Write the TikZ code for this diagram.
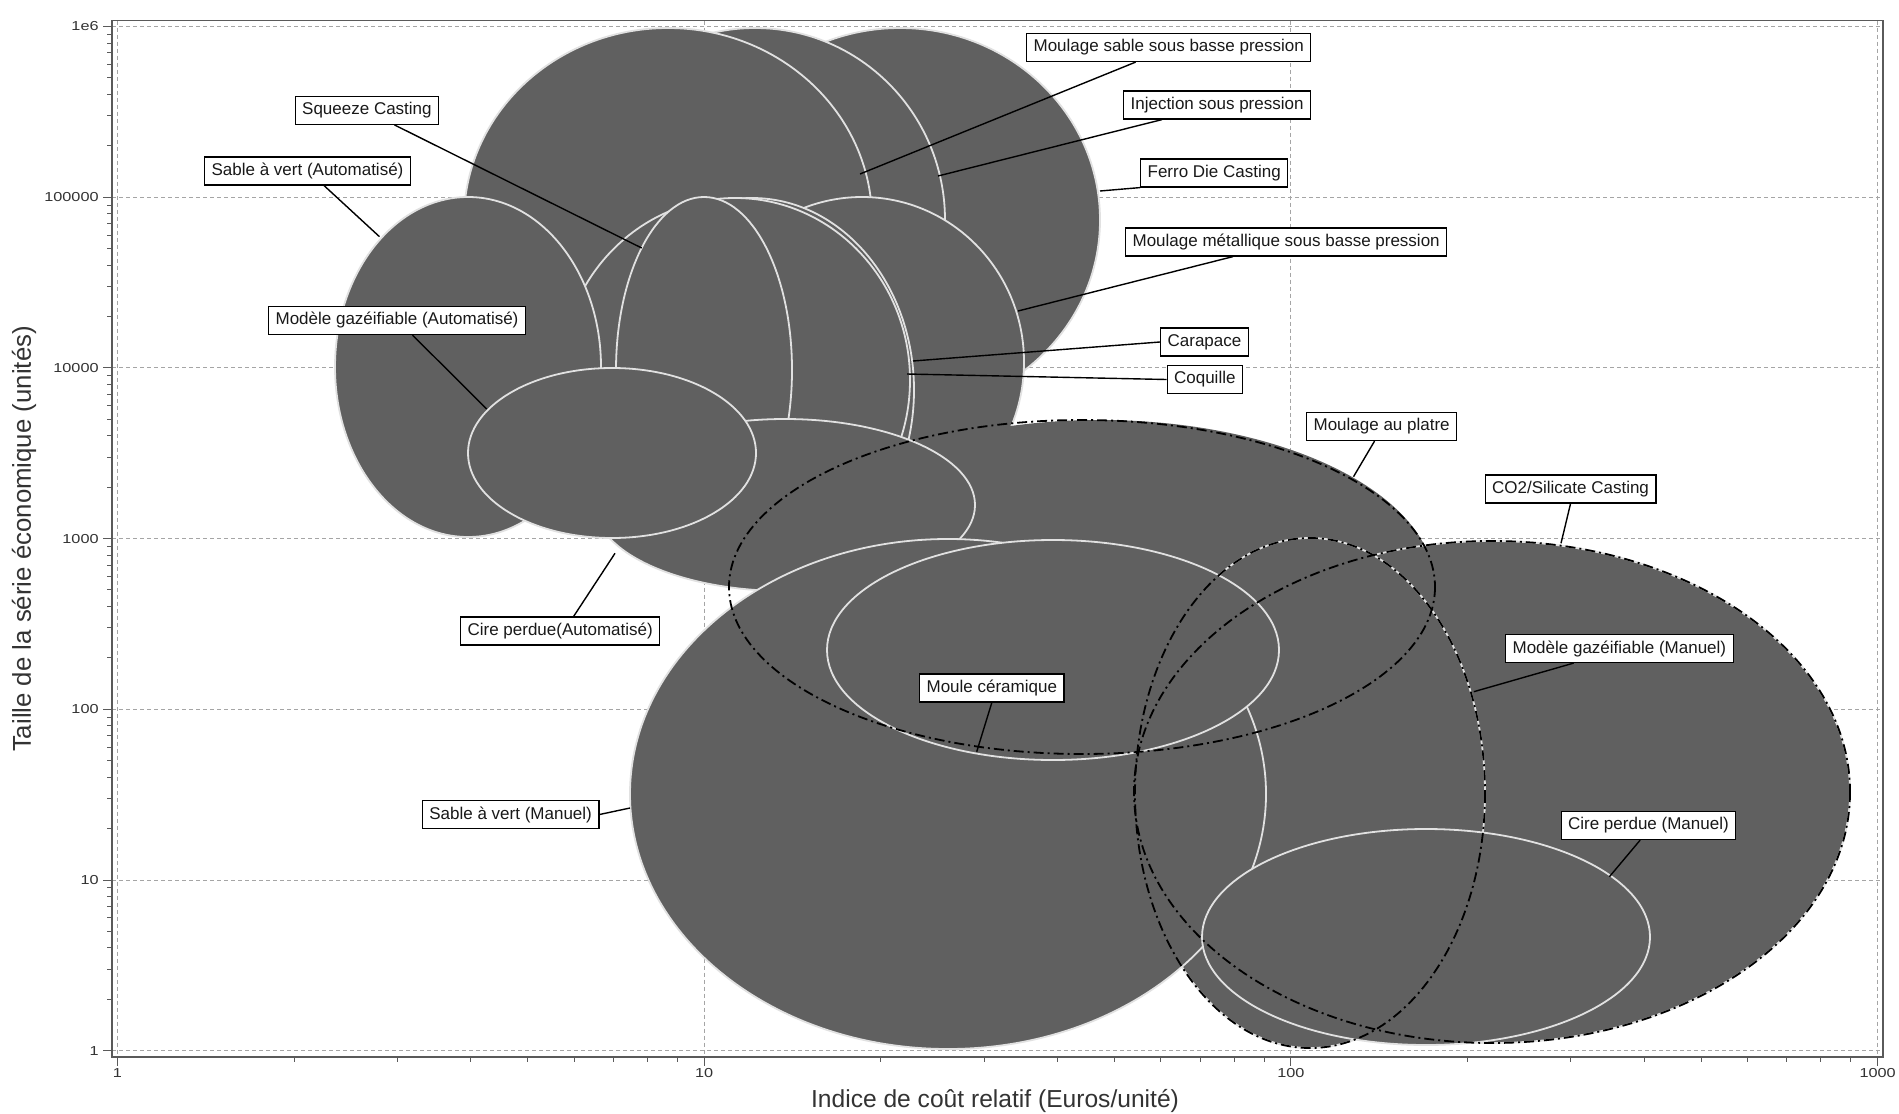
\documentclass[tikz,border=0pt]{standalone}
\usepackage{fontspec}
\usepackage{graphicx}
\setmainfont{Liberation Sans}
\usetikzlibrary{calc}
\definecolor{blob}{RGB}{96,96,96}
\definecolor{rim}{RGB}{225,225,225}
\definecolor{gridc}{RGB}{165,165,165}
\definecolor{frm}{RGB}{90,90,90}
\begin{document}
\begin{tikzpicture}[x=0.5pt,y=-0.5pt,
  blobfill/.style={fill=blob, draw=rim, line width=0.9pt},
  blobonly/.style={fill=blob},
  dashdot/.style={draw=black, line width=0.9pt, dash pattern=on 5pt off 2pt on 1pt off 2pt},
  lbl/.style={draw=black, fill=white, line width=0.6pt, font=\fontsize{8.5}{10}\selectfont, inner xsep=3.5pt, inner ysep=0pt, minimum height=14pt, text=black!90},
  leader/.style={draw=black, line width=0.7pt},
  gridl/.style={draw=gridc, line width=0.5pt, dash pattern=on 2pt off 1.5pt},
  tickl/.style={draw=frm, line width=0.5pt},
  ticklab/.style={font=\fontsize{6.5}{7}\selectfont, text=black!80, inner sep=1pt},
  axtitle/.style={font=\fontsize{12.3}{14}\selectfont, text=black!80, inner sep=0pt}
]
\useasboundingbox (0,0) rectangle (1899,1113);
\fill[white] (0,0) rectangle (1899,1113);

% grid
\foreach \k in {0,1,2,3} \draw[gridl] ({117.5+586.7*\k},20.7) -- ({117.5+586.7*\k},1056.7);
\foreach \k in {0,...,6} \draw[gridl] (112,{1050.7-170.7*\k}) -- (1883,{1050.7-170.7*\k});

% filled bubbles (bottom to top)
\path[blobfill] (900,220) ellipse [x radius=200, y radius=192];   % Ferro Die Casting
\path[blobfill] (755,220) ellipse [x radius=190, y radius=192];   % Injection sous pression
\path[blobfill] (668,220) ellipse [x radius=204, y radius=192];   % Moulage sable sous basse pression
\path[blobfill] (862,362) ellipse [x radius=162, y radius=165];   % Moulage metallique
\path[blobfill] (752,390) ellipse [x radius=162, y radius=192];   % Carapace
\path[blobfill] (735,380) ellipse [x radius=175, y radius=182];   % Coquille
\path[blobfill] (704,370) ellipse [x radius=88, y radius=173];    % Squeeze Casting
\path[blobfill] (468,367) ellipse [x radius=133, y radius=170];   % Sable a vert (Automatise)
\path[blobonly] (1100,587) ellipse [x radius=335, y radius=167];  % Moulage au platre (fill)
\path[blobfill] (785,505) ellipse [x radius=190, y radius=86];    % Cire perdue (Automatise)
\path[blobfill] (612,453) ellipse [x radius=144, y radius=85];    % Modele gazeifiable (Automatise)
\path[blobfill] (1492,792) ellipse [x radius=358, y radius=251];  % CO2/Silicate
\path[blobfill] (1310,793) ellipse [x radius=175, y radius=255];  % Modele gazeifiable (Manuel)
\path[blobfill] (948,794) ellipse [x radius=318, y radius=255];   % Sable a vert (Manuel)
\path[blobfill] (1053,650) ellipse [x radius=226, y radius=110];  % Moule ceramique
\path[blobfill] (1426,937) ellipse [x radius=224, y radius=108];  % Cire perdue (Manuel)

% dash-dot outlines
\path[dashdot] (1082,587) ellipse [x radius=353, y radius=167];
\path[dashdot] (1492,792) ellipse [x radius=358, y radius=251];
\path[dashdot] (1310,793) ellipse [x radius=175, y radius=255];

% frame
\draw[frm, line width=0.8pt] (112,20.7) rectangle (1883,1056.7);

% y ticks
\foreach \d in {0,...,5}{
  \foreach \k in {2,...,9}{
    \pgfmathsetmacro{\yy}{1050.7-170.7*(\d+log10(\k))}
    \draw[tickl] (112,\yy) -- (107,\yy);
  }
}
\foreach \d in {0,...,6}{
  \pgfmathsetmacro{\yy}{1050.7-170.7*\d}
  \draw[tickl] (112,\yy) -- (103,\yy);
}
% x ticks
\foreach \d in {0,1,2}{
  \foreach \k in {2,...,9}{
    \pgfmathsetmacro{\xx}{117.5+586.7*(\d+log10(\k))}
    \draw[tickl] (\xx,1056.7) -- (\xx,1062);
  }
}
\foreach \d in {0,...,3}{
  \pgfmathsetmacro{\xx}{117.5+586.7*\d}
  \draw[tickl] (\xx,1056.7) -- (\xx,1066);
}

% tick labels
\node[ticklab, anchor=east] (ty0) at (101,1050.7) {\scalebox{1.25}[1]{1}};
\node[ticklab, anchor=east] (ty1) at (101,880.0) {\scalebox{1.25}[1]{10}};
\node[ticklab, anchor=east] (ty2) at (101,709.3) {\scalebox{1.25}[1]{100}};
\node[ticklab, anchor=east] (ty3) at (101,538.6) {\scalebox{1.25}[1]{1000}};
\node[ticklab, anchor=east] (ty4) at (101,367.9) {\scalebox{1.25}[1]{10000}};
\node[ticklab, anchor=east] (ty5) at (101,197.2) {\scalebox{1.25}[1]{100000}};
\node[ticklab, anchor=east] (ty6) at (101,26.5) {\scalebox{1.25}[1]{1e6}};
\node[ticklab, anchor=north] (tx0) at (117.5,1066) {\scalebox{1.25}[1]{1}};
\node[ticklab, anchor=north] (tx1) at (704.2,1066) {\scalebox{1.25}[1]{10}};
\node[ticklab, anchor=north] (tx2) at (1290.9,1066) {\scalebox{1.25}[1]{100}};
\node[ticklab, anchor=north] (tx3) at (1877.6,1066) {\scalebox{1.25}[1]{1000}};

% axis titles
\node[axtitle] (xt) at (995,1101) {Indice de coût relatif (Euros/unité)};
\node[axtitle, rotate=90, font=\fontsize{12.9}{14}\selectfont] (yt) at (24,539) {Taille de la série économique (unités)};

% leader end points
\coordinate (e1) at (860,174);
\coordinate (e2) at (938,176);
\coordinate (e3) at (1100,191);
\coordinate (e4) at (1018,311);
\coordinate (e5) at (913,361);
\coordinate (e6) at (907,374);
\coordinate (e7) at (1353.5,476.7);
\coordinate (e8) at (1561,543.3);
\coordinate (e9) at (1473.8,691.7);
\coordinate (e10) at (1609.4,876.7);
\coordinate (e11) at (630,808);
\coordinate (e12) at (976.7,751.7);
\coordinate (e13) at (615,553.3);
\coordinate (e14) at (486.7,409);
\coordinate (e15) at (379.5,236.7);
\coordinate (e16) at (641.7,248);

% labels
\node[lbl, anchor=west] (l1) at (1026,47.5) {Moulage sable sous basse pression};
\node[lbl, anchor=west] (l2) at (1123,105) {Injection sous pression};
\node[lbl, anchor=west] (l3) at (1140,173) {Ferro Die Casting};
\node[lbl, anchor=west] (l4) at (1125,242) {Moulage métallique sous basse pression};
\node[lbl, anchor=west] (l5) at (1160,342) {Carapace};
\node[lbl, anchor=west] (l6) at (1166.5,379.5) {Coquille};
\node[lbl, anchor=west] (l7) at (1306,426.5) {Moulage au platre};
\node[lbl, anchor=west] (l8) at (1484.5,489) {CO2/Silicate Casting};
\node[lbl, anchor=west] (l9) at (1505,648.5) {Modèle gazéifiable (Manuel)};
\node[lbl, anchor=west] (l10) at (1560.5,825.5) {Cire perdue (Manuel)};
\node[lbl, anchor=east] (l11) at (599.5,814.5) {Sable à vert (Manuel)};
\node[lbl, anchor=west] (l12) at (919,688) {Moule céramique};
\node[lbl, anchor=west] (l13) at (460,631) {Cire perdue(Automatisé)};
\node[lbl, anchor=west] (l14) at (268,320.5) {Modèle gazéifiable (Automatisé)};
\node[lbl, anchor=west] (l15) at (204,171) {Sable à vert (Automatisé)};
\node[lbl, anchor=west] (l16) at (294.6,110.3) {Squeeze Casting};

% leaders
\draw[leader] ($(l1.south west)!0.384!(l1.south east)$) -- (e1);
\draw[leader] ($(l2.south west)!0.207!(l2.south east)$) -- (e2);
\draw[leader] (l3.south west) -- (e3);
\draw[leader] ($(l4.south west)!0.335!(l4.south east)$) -- (e4);
\draw[leader] (l5.west) -- (e5);
\draw[leader] (l6.west) -- (e6);
\draw[leader] ($(l7.south west)!0.453!(l7.south east)$) -- (e7);
\draw[leader] (l8.south) -- (e8);
\draw[leader] ($(l9.south west)!0.30!(l9.south east)$) -- (e9);
\draw[leader] ($(l10.south west)!0.453!(l10.south east)$) -- (e10);
\draw[leader] (l11.east) -- (e11);
\draw[leader] (l12.south) -- (e12);
\draw[leader] ($(l13.north west)!0.567!(l13.north east)$) -- (e13);
\draw[leader] ($(l14.south west)!0.56!(l14.south east)$) -- (e14);
\draw[leader] ($(l15.south west)!0.58!(l15.south east)$) -- (e15);
\draw[leader] ($(l16.south west)!0.69!(l16.south east)$) -- (e16);
\end{tikzpicture}
\end{document}
